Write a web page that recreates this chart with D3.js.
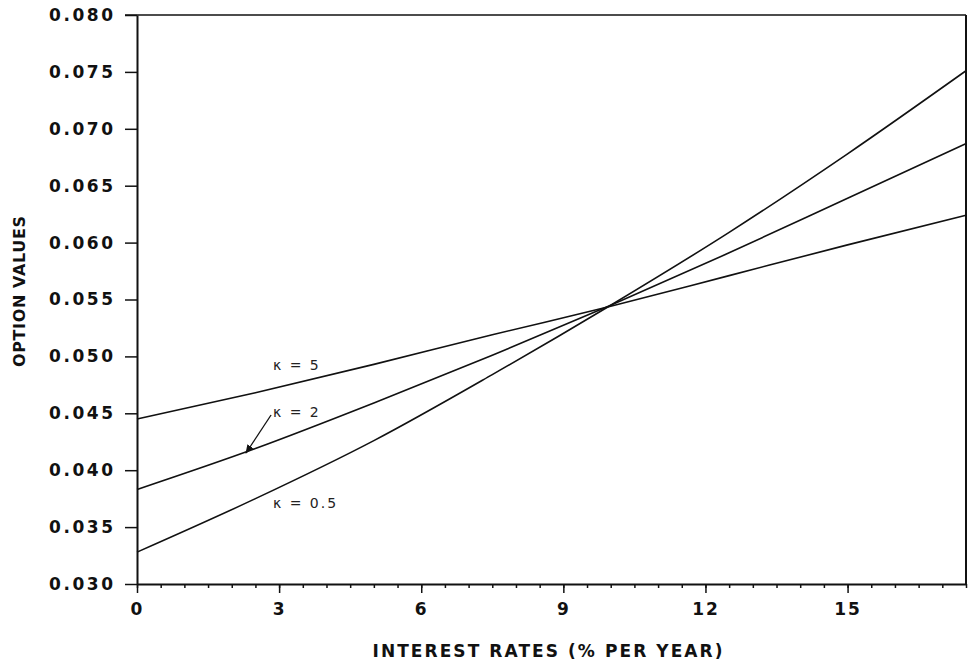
<!DOCTYPE html>
<html>
<head>
<meta charset="utf-8">
<script src="https://cdn.jsdelivr.net/npm/d3@7"></script>
<style>
  body { margin: 0; background: #fff; }
  .tick text { font-family: "DejaVu Sans", sans-serif; font-weight: bold; font-size: 17px; fill: #111; }
  .kappa { font-family: "DejaVu Sans", sans-serif; font-size: 14px; fill: #222; letter-spacing: 2px; }
</style>
</head>
<body>
<div id="chart"></div>
<script>
// interest rate (% per year)
var rates = [0, 2.5, 5, 7.5, 10, 12.5, 15, 17.5];
// option values
var kappa05 = [0.0328, 0.0375, 0.0426, 0.0484, 0.0545, 0.0609, 0.0678, 0.0751];
var kappa2  = [0.0383, 0.0419, 0.0459, 0.0501, 0.0545, 0.0591, 0.0639, 0.0687];
var kappa5  = [0.0445, 0.0468, 0.0493, 0.0519, 0.0544, 0.0571, 0.0598, 0.0624];
var xTicks = [0, 3, 6, 9, 12, 15];
var yTicks = [0.030, 0.035, 0.040, 0.045, 0.050, 0.055, 0.060, 0.065, 0.070, 0.075, 0.080];
var labels = [
	{text: "\u03ba = 5", x: 2.87, y: 0.0488},
	{text: "\u03ba = 2", x: 2.87, y: 0.04467},
	{text: "\u03ba = 0.5", x: 2.87, y: 0.03668}
];
var arrowFrom = [2.83, 0.04485], arrowTo = [2.30, 0.04151];

var margin = {top: 15, right: 4, bottom: 81, left: 137},
	w = 970 - margin.left - margin.right,
	h = 665 - margin.top - margin.bottom;

var svg = d3.select("#chart").append("svg")
	.attr("width", 970)
	.attr("height", 665)
		.append("g")
	.attr("transform", "translate(" + margin.left + "," + margin.top + ")");

var x = d3.scaleLinear().domain([0, 17.5]).range([0, w]);
var y = d3.scaleLinear().domain([0.030, 0.080]).range([h, 0]);

svg.append("defs").append("marker")
	.attr("id", "arrow")
	.attr("viewBox", "0 0 10 10")
	.attr("refX", 9).attr("refY", 5)
	.attr("markerWidth", 7).attr("markerHeight", 7)
	.attr("orient", "auto")
	.append("path")
	.attr("d", "M0,1 L10,5 L0,9 Z")
	.attr("fill", "#111");

// minor x ticks
svg.append("g")
	.attr("transform", "translate(0," + h + ")")
	.call(d3.axisBottom(x).tickValues(d3.range(0, 17.51, 0.5)).tickSize(4).tickFormat("").tickSizeOuter(0))
	.call(function(g) { g.select(".domain").remove(); })
	.selectAll("line").attr("stroke", "#111").attr("stroke-width", 1.5);

var xAxis = svg.append("g")
	.attr("transform", "translate(0," + h + ")")
	.call(d3.axisBottom(x).tickValues(xTicks).tickSize(9).tickPadding(10).tickSizeOuter(0));
xAxis.select(".domain").attr("stroke", "#111").attr("stroke-width", 2);
xAxis.selectAll(".tick line").attr("stroke", "#111").attr("stroke-width", 1.5);
xAxis.selectAll(".tick text").style("letter-spacing", "2px");

var yAxis = svg.append("g")
	.call(d3.axisLeft(y).tickValues(yTicks).tickSize(12).tickPadding(12).tickSizeOuter(0).tickFormat(d3.format(".3f")));
yAxis.select(".domain").attr("stroke", "#111").attr("stroke-width", 2);
yAxis.selectAll(".tick line").attr("stroke", "#111").attr("stroke-width", 1.5);
yAxis.selectAll(".tick text").attr("textLength", 64).attr("lengthAdjust", "spacing");

// top and right frame
svg.append("line")
	.attr("x1", -12).attr("y1", 0).attr("x2", w).attr("y2", 0)
	.attr("stroke", "#111").attr("stroke-width", 1.5);
svg.append("line")
	.attr("x1", w).attr("y1", 0).attr("x2", w).attr("y2", h)
	.attr("stroke", "#111").attr("stroke-width", 2);

var line = d3.line()
	.x(function(d, i) { return x(rates[i]); })
	.y(function(d) { return y(d); })
	.curve(d3.curveMonotoneX);

[kappa05, kappa2, kappa5].forEach(function(s) {
	svg.append("path")
		.datum(s)
		.attr("d", line)
		.attr("fill", "none")
		.attr("stroke", "#111")
		.attr("stroke-width", 1.6);
});

svg.selectAll(".kappa")
	.data(labels)
	.enter().append("text")
	.attr("class", "kappa")
	.attr("x", function(d) { return x(d.x); })
	.attr("y", function(d) { return y(d.y); })
	.text(function(d) { return d.text; });

svg.append("line")
	.attr("x1", x(arrowFrom[0])).attr("y1", y(arrowFrom[1]))
	.attr("x2", x(arrowTo[0])).attr("y2", y(arrowTo[1]))
	.attr("stroke", "#111").attr("stroke-width", 1.3)
	.attr("marker-end", "url(#arrow)");

svg.append("text")
	.attr("x", w / 2 - 4)
	.attr("y", h + 73)
	.attr("text-anchor", "middle")
	.attr("textLength", 350)
	.attr("lengthAdjust", "spacing")
	.style("font-family", "DejaVu Sans, sans-serif")
	.style("font-weight", "bold")
	.style("font-size", "17px")
	.style("fill", "#111")
	.text("INTEREST RATES (% PER YEAR)");

svg.append("text")
	.attr("transform", "translate(" + (-112) + "," + (h / 2 - 8) + ") rotate(-90)")
	.attr("text-anchor", "middle")
	.attr("textLength", 151)
	.attr("lengthAdjust", "spacing")
	.style("font-family", "DejaVu Sans, sans-serif")
	.style("font-weight", "bold")
	.style("font-size", "16px")
	.style("fill", "#111")
	.text("OPTION VALUES");
</script>
</body>
</html>
